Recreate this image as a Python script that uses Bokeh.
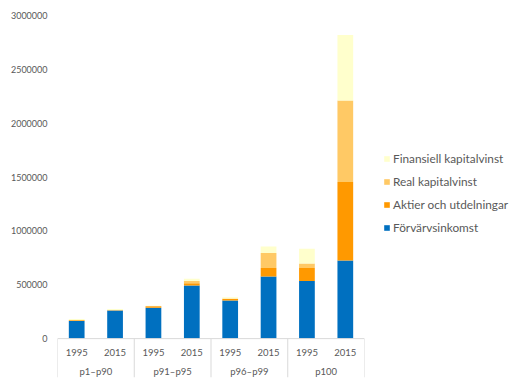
from bokeh.plotting import figure
from bokeh.models import (FactorRange, Range1d, FixedTicker, Legend, LegendItem,
                          ColumnDataSource, Span, NumeralTickFormatter)
from bokeh.transform import dodge
from bokeh.core.properties import value
from bokeh.embed import file_html
from bokeh.resources import INLINE

groups = ["p1–p90", "p91–p95", "p96–p99", "p100"]
years = ["1995", "2015"]
series = ["Förvärvsinkomst", "Aktier och utdelningar", "Real kapitalvinst", "Finansiell kapitalvinst"]
colors = ["#0070C0", "#FF9900", "#FFC965", "#FFFFCC"]

forvarv = [163000, 262000, 287000, 493000, 355000, 577000, 534000, 725000]
aktier = [8000, 2000, 13000, 22000, 12000, 78000, 121000, 729000]
real = [3000, 2000, 2000, 20000, 6000, 141000, 42000, 756000]
finans = [8000, 8000, 3000, 20000, 12000, 59000, 138000, 608000]

y_ticks = [0, 500000, 1000000, 1500000, 2000000, 2500000, 3000000]

factors = [(g, y) for g in groups for y in years]

FRAME_W = 307
FRAME_H = 362
Y_MAX = 3000000
Y_MIN = -361000
UNITS_PER_PX = (Y_MAX - Y_MIN) / FRAME_H

p = figure(x_range=FactorRange(*factors, group_padding=0, range_padding=0),
           y_range=Range1d(Y_MIN, Y_MAX),
           frame_width=FRAME_W, frame_height=FRAME_H,
           output_backend="svg", toolbar_location=None,
           min_border_left=57, min_border_top=15, min_border_bottom=4, min_border_right=152)

src = ColumnDataSource(dict(x=factors, **{series[0]: forvarv, series[1]: aktier,
                                          series[2]: real, series[3]: finans}))
rs = p.vbar_stack(series, x="x", width=0.41, color=colors, line_color=None, source=src)

p.xaxis.visible = False
p.xgrid.visible = False
p.ygrid.visible = False
p.outline_line_color = None

ya = p.yaxis[0]
ya.ticker = FixedTicker(ticks=y_ticks)
ya.formatter = NumeralTickFormatter(format="0")
ya.axis_line_color = None
ya.major_tick_line_color = None
ya.minor_tick_line_color = None
ya.major_tick_out = 0
ya.major_tick_in = 0
ya.major_label_standoff = 10
ya.major_label_text_font = "Lato"
ya.major_label_text_font_size = "9px"
ya.major_label_text_color = "#595959"

# category table below zero line
sep_color = "#D9D9D9"
p.add_layout(Span(location=0, dimension="width", line_color=sep_color, line_width=1))

first = [(g, years[0]) for g in groups]
last = [(groups[-1], years[-1])]
sep_src = ColumnDataSource(dict(x=first, y0=[0] * len(first), y1=[Y_MIN] * len(first)))
p.segment(x0=dodge("x", -0.5, range=p.x_range), x1=dodge("x", -0.5, range=p.x_range),
          y0="y0", y1="y1", source=sep_src, line_color=sep_color, line_width=1)
end_src = ColumnDataSource(dict(x=last, y0=[0], y1=[Y_MIN]))
p.segment(x0=dodge("x", 0.5, range=p.x_range), x1=dodge("x", 0.5, range=p.x_range),
          y0="y0", y1="y1", source=end_src, line_color=sep_color, line_width=1)

yr_src = ColumnDataSource(dict(x=factors, t=[f[1] for f in factors],
                               y=[-14 * UNITS_PER_PX] * len(factors)))
p.text(x="x", y="y", text="t", source=yr_src, text_align="center", text_baseline="middle",
       text_font=value("Lato"), text_font_size="9.5px", text_color="#595959")
gr_src = ColumnDataSource(dict(x=first, t=groups, y=[-33 * UNITS_PER_PX] * len(groups)))
p.text(x=dodge("x", 0.5, range=p.x_range), y="y", text="t", source=gr_src,
       text_align="center", text_baseline="middle",
       text_font=value("Lato"), text_font_size="9.5px", text_color="#595959")

items = [LegendItem(label=series[i], renderers=[rs[i]]) for i in reversed(range(4))]
legend = Legend(items=items, location=(19, 142), orientation="vertical",
                glyph_width=7, glyph_height=7, label_height=16, spacing=7,
                label_text_font="Lato", label_text_font_size="11.8px",
                label_text_color="#595959", label_standoff=3,
                border_line_color=None, background_fill_alpha=0, padding=0, margin=0)
p.add_layout(legend, "right")

open("out.html", "w").write(file_html(p, INLINE))
